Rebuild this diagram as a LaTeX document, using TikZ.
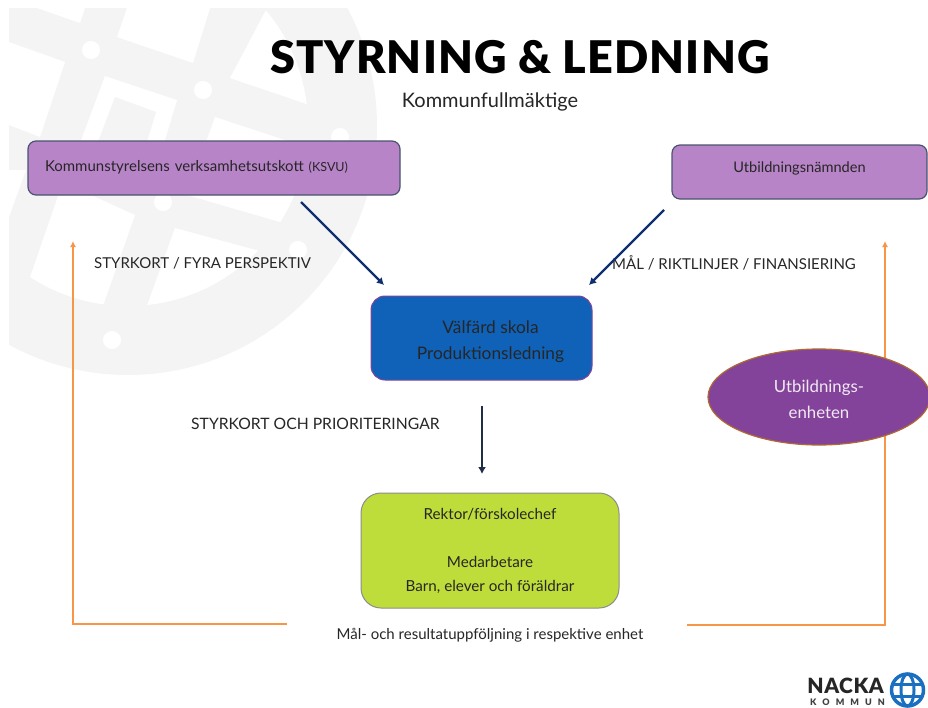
\documentclass[tikz,border=0pt]{standalone}
\usepackage{fontspec}
\setmainfont{Lato}
\newfontfamily\rubrikfont[LetterSpace=2.5]{Lato Black}
\usetikzlibrary{positioning,shapes.geometric,arrows.meta}
\definecolor{Vattenmark}{HTML}{F4F4F4}
\definecolor{Lila}{HTML}{B884C8}
\definecolor{Kant}{HTML}{4A5470}
\definecolor{Bla}{HTML}{0F62B8}
\definecolor{Gron}{HTML}{BFDD3A}
\definecolor{Morklila}{HTML}{84439A}
\definecolor{Marin}{HTML}{0F2F70}
\definecolor{Morkpil}{HTML}{1F2D45}
\definecolor{Orange}{HTML}{F79646}
\definecolor{Logo}{HTML}{1B6FC0}
\tikzstyle{NamndBox}=[rectangle, rounded corners=8pt, draw=Kant, fill=Lila, line width=1.2, minimum height=54pt, text=black!85, font=\fontsize{15}{18}\selectfont]
\tikzstyle{ProduktionBox}=[rectangle, rounded corners=14pt, draw=Morklila, fill=Bla, line width=1, minimum width=221pt, minimum height=84pt, align=center, text=black!85, font=\fontsize{17.3}{26}\selectfont]
\tikzstyle{RektorBox}=[rectangle, rounded corners=20pt, draw=black!45, fill=Gron, line width=1, minimum width=258pt, minimum height=115pt, align=center, text=black!85, font=\fontsize{15.2}{24}\selectfont]
\tikzstyle{EnhetBox}=[ellipse, draw=Orange!70!black, fill=Morklila, line width=1.2, minimum width=222pt, minimum height=96pt, inner sep=0pt, align=center, text=white!88!Morklila, font=\fontsize{16.8}{26}\selectfont]
\tikzstyle{Etikett}=[text=black!85, inner sep=0pt, font=\fontsize{15}{18}\selectfont]
\tikzstyle{Pil}=[-{Latex[length=7pt,width=8pt]}, line width=2.4, draw=Marin]
\tikzstyle{Uppfoljning}=[-{Latex[length=6pt,width=6pt]}, line width=1.8, draw=Orange]
\begin{document}
\begin{tikzpicture}[x=1pt,y=-1pt]
			\useasboundingbox (0,0) rectangle (928,707);

			%Bakgrund
			\begin{scope}
				\clip (9,8) rectangle (500,400);
				\fill[Vattenmark] (128,126) circle (249);
				\foreach \x/\y in {91/50, 203/90, 340/137, 163/202, 112/340, 298/250}
					\fill[white] (\x,\y) circle (9);
				\clip (128,126) circle (180);
				\fill[white] (37,8) -- (85,8) -- (80,23) -- cycle;
				\fill[white] (127,8) -- (117,37) -- (193,63) -- (210,8) -- cycle;
				\fill[white] (267,8) -- (230,78) -- (330,112) -- (330,8) -- cycle;
				\fill[white] (9,42) -- (65,62) -- (40,137) -- (9,125) -- cycle;
				\fill[white] (9,170) -- (26,170) -- (9,217) -- cycle;
				\fill[white] (105,76) -- (177,100) -- (150,190) -- (70,170) -- cycle;
				\fill[Vattenmark] (115,97) -- (156,112) -- (140,165) -- (95,150) -- cycle;
				\fill[white] (215,117) -- (330,155) -- (310,230) -- (280,222) -- (187,195) -- cycle;
				\fill[white] (175,228) -- (300,262) -- (300,340) -- (140,325) -- cycle;
				\fill[white] (58,196) -- (93,196) -- (135,215) -- (98,320) -- (25,292) -- cycle;
			\end{scope}

			%Noder
			\node[font=\rubrikfont\fontsize{45}{50}\selectfont, text=black] (rubrik) at (520,57) {STYRNING \& LEDNING};
			\node[Etikett, font=\fontsize{20}{22}\selectfont] (fullmaktige) [below = 15pt of rubrik, xshift=-30pt] {Kommunfullmäktige};

			\node[NamndBox, minimum width=372pt, text width=338pt, align=left] (ksvu) at (214,168) {\raisebox{4pt}{Kommunstyrelsens verksamhetsutskott {\fontsize{12.5}{14}\selectfont (KSVU)}}\par};
			\node[NamndBox, minimum width=255pt, align=center, font=\fontsize{14.6}{18}\selectfont] (utbildning) at (799.5,172) {\raisebox{10pt}{Utbildningsnämnden}};

			\node[ProduktionBox] (produktion) at (481.5,338) {\rule{0pt}{20pt}\hspace*{18pt}Välfärd skola\\\hspace*{18pt}Produktionsledning};
			\node[RektorBox] (rektor) [below = 112pt of produktion, xshift=8.5pt] {Rektor/förskolechef\\[24pt]Medarbetare\\Barn, elever och föräldrar};

			\node[Etikett, anchor=west] (styrkort) at (94,263) {STYRKORT / FYRA PERSPEKTIV};
			\node[Etikett, anchor=west] (mal) at (612,262.5) {MÅL / RIKTLINJER / FINANSIERING};
			\node[Etikett, anchor=west, font=\fontsize{15.7}{18}\selectfont] (prioritering) at (191,424) {STYRKORT OCH PRIORITERINGAR};
			\node[Etikett] (resultat) at (490,635) {Mål- och resultatuppföljning i respektive enhet};

			\coordinate (ksvu_ut) at (301,202);
			\coordinate (ksvu_in) at (384,285);
			\coordinate (utbildning_ut) at (664,210);
			\coordinate (utbildning_in) at (589,285);
			\coordinate (produktion_ut) at (482,406);
			\coordinate (rektor_in) at (482,474);
			\coordinate (vanster_ut) at (287,624);
			\coordinate (vanster_horn) at (73,624);
			\coordinate (vanster_in) at (73,241);
			\coordinate (hoger_ut) at (687,625);
			\coordinate (hoger_horn) at (885,625);
			\coordinate (hoger_in) at (885,241);

			%Linjer
			\draw[Pil] (ksvu_ut) -- (ksvu_in);
			\draw[Pil] (utbildning_ut) -- (utbildning_in);
			\draw[Pil, draw=Morkpil] (produktion_ut) -- (rektor_in);
			\draw[Uppfoljning] (vanster_ut) -- (vanster_horn) -- (vanster_in);
			\draw[Uppfoljning] (hoger_ut) -- (hoger_horn) -- (hoger_in);

			\node[EnhetBox] (enhet) at (819,397) {\rule{0pt}{18pt}Utbildnings-\\enheten};

			%Logotyp
			\node[anchor=east, inner sep=0pt, font=\rubrikfont\fontsize{21}{21}\selectfont, text=black!85] (nacka) at (884,686) {NACKA};
			\node[anchor=east, inner sep=0pt, font=\rubrikfont\fontsize{9}{9}\selectfont, text=black!75] (kommun) at (885,702) {K\hspace{6pt}O\hspace{6pt}M\hspace{6pt}M\hspace{6pt}U\hspace{6pt}N};
			\draw[Logo, line width=3.5] (907.5,690) circle (16);
			\draw[Logo, line width=3] (907.5,690) ellipse (6.5 and 16);
			\draw[Logo, line width=3] (892,684) -- (923,684) (892,696) -- (923,696);
		\end{tikzpicture}
\end{document}
